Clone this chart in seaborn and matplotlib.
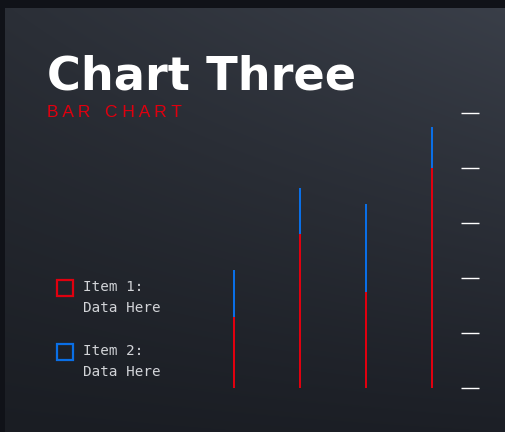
import numpy as np
import pandas as pd
import matplotlib
matplotlib.use("Agg")
import matplotlib.pyplot as plt
import seaborn as sns
from matplotlib.patches import Rectangle

# chart data
categories = ["A", "B", "C", "D"]
item1 = [26, 56, 35, 80]   # red, bottom segment
item2 = [17, 17, 32, 15]   # blue, top segment
y_ticks = [0, 20, 40, 60, 80, 100]
legend_labels = ["Item 1:\nData Here", "Item 2:\nData Here"]

RED = "#e0000f"
BLUE = "#0a6fe6"
TEXT = "#d2d4d8"

sns.set_style("white")
plt.rcParams["font.family"] = ["DejaVu Sans"]

W, H = 506, 432
fig = plt.figure(figsize=(W / 100, H / 100), dpi=100)

# background: dark frame + gradient panel
bg = fig.add_axes([0, 0, 1, 1])
yy, xx = np.mgrid[0:1:H * 1j, 0:1:W * 1j]
tl = np.array([0x2b, 0x2f, 0x37]) / 255
tr = np.array([0x3a, 0x3f, 0x49]) / 255
bl = np.array([0x1a, 0x1d, 0x23]) / 255
br = np.array([0x1c, 0x1f, 0x26]) / 255
top = tl[None, None, :] * (1 - xx[..., None]) + tr[None, None, :] * xx[..., None]
bot = bl[None, None, :] * (1 - xx[..., None]) + br[None, None, :] * xx[..., None]
img = top * (1 - yy[..., None]) + bot * yy[..., None]
frame = np.array([0x10, 0x12, 0x18]) / 255
img[:8, :, :] = frame
img[:, :5, :] = frame
bg.imshow(img, aspect="auto", extent=[0, 1, 0, 1], origin="upper")
bg.set_axis_off()

# bar axes
ax = fig.add_axes([201 / W, (H - 388.3) / H, 260 / W, 275 / H])
ax.patch.set_alpha(0)
df = pd.DataFrame({"cat": categories, "item1": item1, "item2": item2})
df["total"] = df["item1"] + df["item2"]
sns.barplot(data=df, x="cat", y="total", color=BLUE, width=0.032,
            saturation=1, linewidth=0, ax=ax)
sns.barplot(data=df, x="cat", y="item1", color=RED, width=0.032,
            saturation=1, linewidth=0, ax=ax)
ax.set_xlim(-0.5, 3.44)
ax.set_ylim(0, 100)
ax.set_yticks(y_ticks)
ax.yaxis.tick_right()
ax.tick_params(axis="y", which="major", direction="out", length=13,
               width=1, color="white", labelright=False, labelleft=False)
ax.tick_params(axis="x", length=0, labelbottom=False)
ax.set_xlabel("")
ax.set_ylabel("")
for s in ax.spines.values():
    s.set_visible(False)

# titles
fig.text(47 / W, (H - 89) / H, "Chart Three", color="white",
         fontsize=33.3, fontweight="bold", va="baseline", ha="left")
fig.text(47 / W, (H - 117) / H, " ".join("BAR") + "   " + " ".join("CHART"),
         color=RED, fontsize=12.5, family="Liberation Sans",
         va="baseline", ha="left")

# legend
for i, (lab, col) in enumerate(zip(legend_labels, [RED, BLUE])):
    y0 = 280 + i * 64
    fig.add_artist(Rectangle((57 / W, (H - y0 - 16) / H), 16 / W, 16 / H,
                             transform=fig.transFigure, facecolor="none",
                             edgecolor=col, linewidth=1.6))
    l1, l2 = lab.split("\n")
    fig.text(83 / W, (H - y0 - 7) / H, l1, color=TEXT, fontsize=10.3,
             family="DejaVu Sans Mono", va="center", ha="left")
    fig.text(83 / W, (H - y0 - 28) / H, l2, color=TEXT, fontsize=10.3,
             family="DejaVu Sans Mono", va="center", ha="left")

fig.savefig("out.png", dpi=100)
